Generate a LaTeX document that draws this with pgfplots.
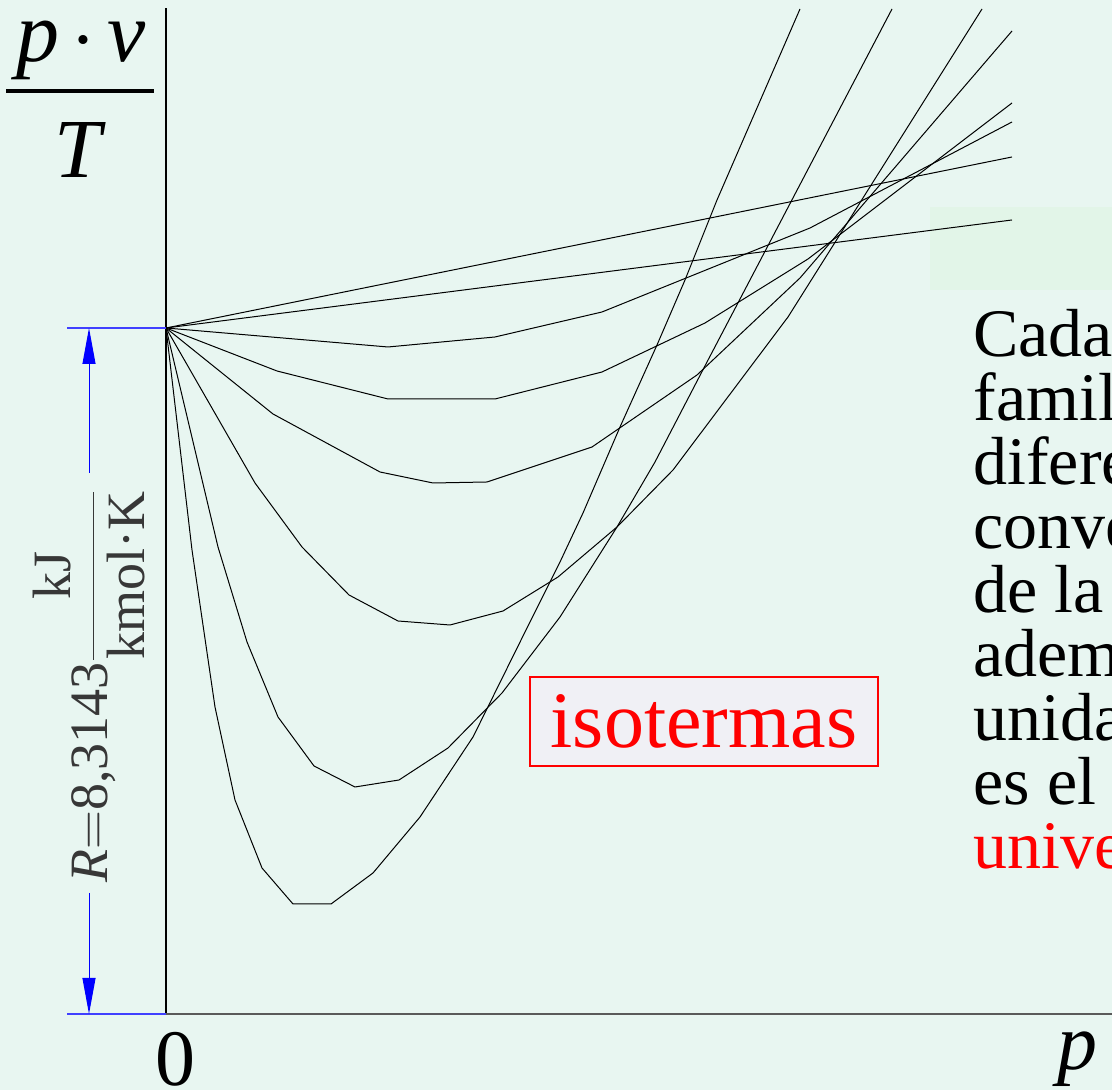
\RequirePackage{fix-cm}
\documentclass[border=0pt]{standalone}
\usepackage{pgfplots}
\pgfplotsset{compat=1.18}
\usetikzlibrary{arrows.meta}
\usepackage{fontspec}
\setmainfont{Liberation Serif}
\definecolor{bg}{RGB}{232,246,241}
\definecolor{bgrect}{RGB}{226,245,232}
\definecolor{boxfill}{RGB}{240,240,245}
\definecolor{labgray}{RGB}{55,55,55}
\definecolor{axgray}{RGB}{90,90,90}
\begin{document}
\begin{tikzpicture}
\begin{axis}[
  scale only axis, width=556pt, height=545pt,
  xmin=-166, xmax=946, ymin=-76, ymax=1014,
  hide axis, clip=true,
]
\fill[bg] (-166,-76) rectangle (946,1014);
\fill[bgrect] (764,724) rectangle (946,807);
% isotherms
\addplot[black, line width=0.5pt, mark=none] coordinates {(0,686) (846,857)};
\addplot[black, line width=0.5pt, mark=none] coordinates {(0,686) (846,794)};
\addplot[black, line width=0.5pt, mark=none] coordinates {(0,686) (222,667) (329,677) (436,702) (644,786) (846,892)};
\addplot[black, line width=0.5pt, mark=none] coordinates {(0,686) (111,643) (222,615) (329,615) (436,642) (539,691) (642,755) (846,911)};
\addplot[black, line width=0.5pt, mark=none] coordinates {(0,686) (107,600) (214,542) (267,531) (321,532) (426,567) (531,639) (634,736) (846,983)};
\addplot[black, line width=0.5pt, mark=none] coordinates {(0,686) (89,531) (136,467) (183,419) (232,393) (284,389) (337,403) (392,437) (451,487) (507,544) (622,697) (816,1005)};
\addplot[black, line width=0.5pt, mark=none] coordinates {(0,686) (52,467) (81,372) (112,297) (148,248) (189,227) (233,234) (282,266) (336,321) (394,397) (451,487) (489,552) (541,652) (726,1005)};
\addplot[black, line width=0.5pt, mark=none] coordinates {(0,686) (26,464) (49,307) (69,214) (96,146) (127,110) (165,110) (207,141) (254,197) (307,277) (361,386) (394,452) (417,501) (454,587) (491,669) (519,734) (551,814) (634,1005)};
% axes
\draw[black, line width=0.6pt] (0,0) -- (0,1006);
\draw[axgray, line width=0.7pt] (0,0) -- (946,0);
% R dimension
\draw[blue!75, line width=0.6pt] (-99,686) -- (0,686);
\draw[blue!75, line width=0.6pt] (-99,0) -- (0,0);
\draw[blue, line width=0.5pt, -{Triangle[length=18pt,width=6.5pt]}] (-77,541) -- (-77,686);
\draw[blue, line width=0.5pt, -{Triangle[length=18pt,width=6.5pt]}] (-77,121) -- (-77,0);
\node[rotate=90, text=labgray, font=\fontsize{27}{32}\selectfont, inner sep=0pt] at (-77,328)
  {$\mbox{\itshape R}{=}\mbox{8,3143}\displaystyle\frac{\mbox{kJ}}{\mbox{kmol·K}}$};
% y label  p.v / T
\node[font=\fontsize{43}{50}\selectfont, anchor=base, inner sep=0pt] at (-85,952)
  {{\itshape p}\hspace{6pt}$\cdot$\hspace{6pt}{\itshape v}};
\draw[black, line width=2pt] (-160,923) -- (-12,923);
\node[font=\fontsize{42}{50}\selectfont\itshape, anchor=base, inner sep=0pt] at (-88,836) {T};
% x axis labels
\node[font=\fontsize{40}{48}\selectfont, anchor=base, inner sep=0pt] at (9,-72) {0};
\node[font=\fontsize{40}{48}\selectfont\itshape, anchor=base, inner sep=0pt] at (911,-56) {p};
% isotermas box
\node[draw=red, line width=0.75pt, fill=boxfill, text=red, font=\fontsize{40}{48}\selectfont,
  minimum width=174pt, minimum height=44.5pt, inner sep=0pt] at (538,292.5) {isotermas};
% side text (clipped at the right edge as in the original)
\node[anchor=base west, align=left, inner sep=0pt, font=\fontsize{34}{32}\selectfont] at (807,145)
  {Cada gas tiene su\\ familia de isotermas\\ diferente, pero todas\\ convergen en el límite\\ de la presión nula y,\\ además, en estas\\ unidades, ese límite\\ es el mismo: la constante\\ \textcolor{red}{universal de los gases}};
\end{axis}
\pgfresetboundingbox
\path[use as bounding box] (current axis.south west) rectangle (current axis.north east);
\end{tikzpicture}
\end{document}
